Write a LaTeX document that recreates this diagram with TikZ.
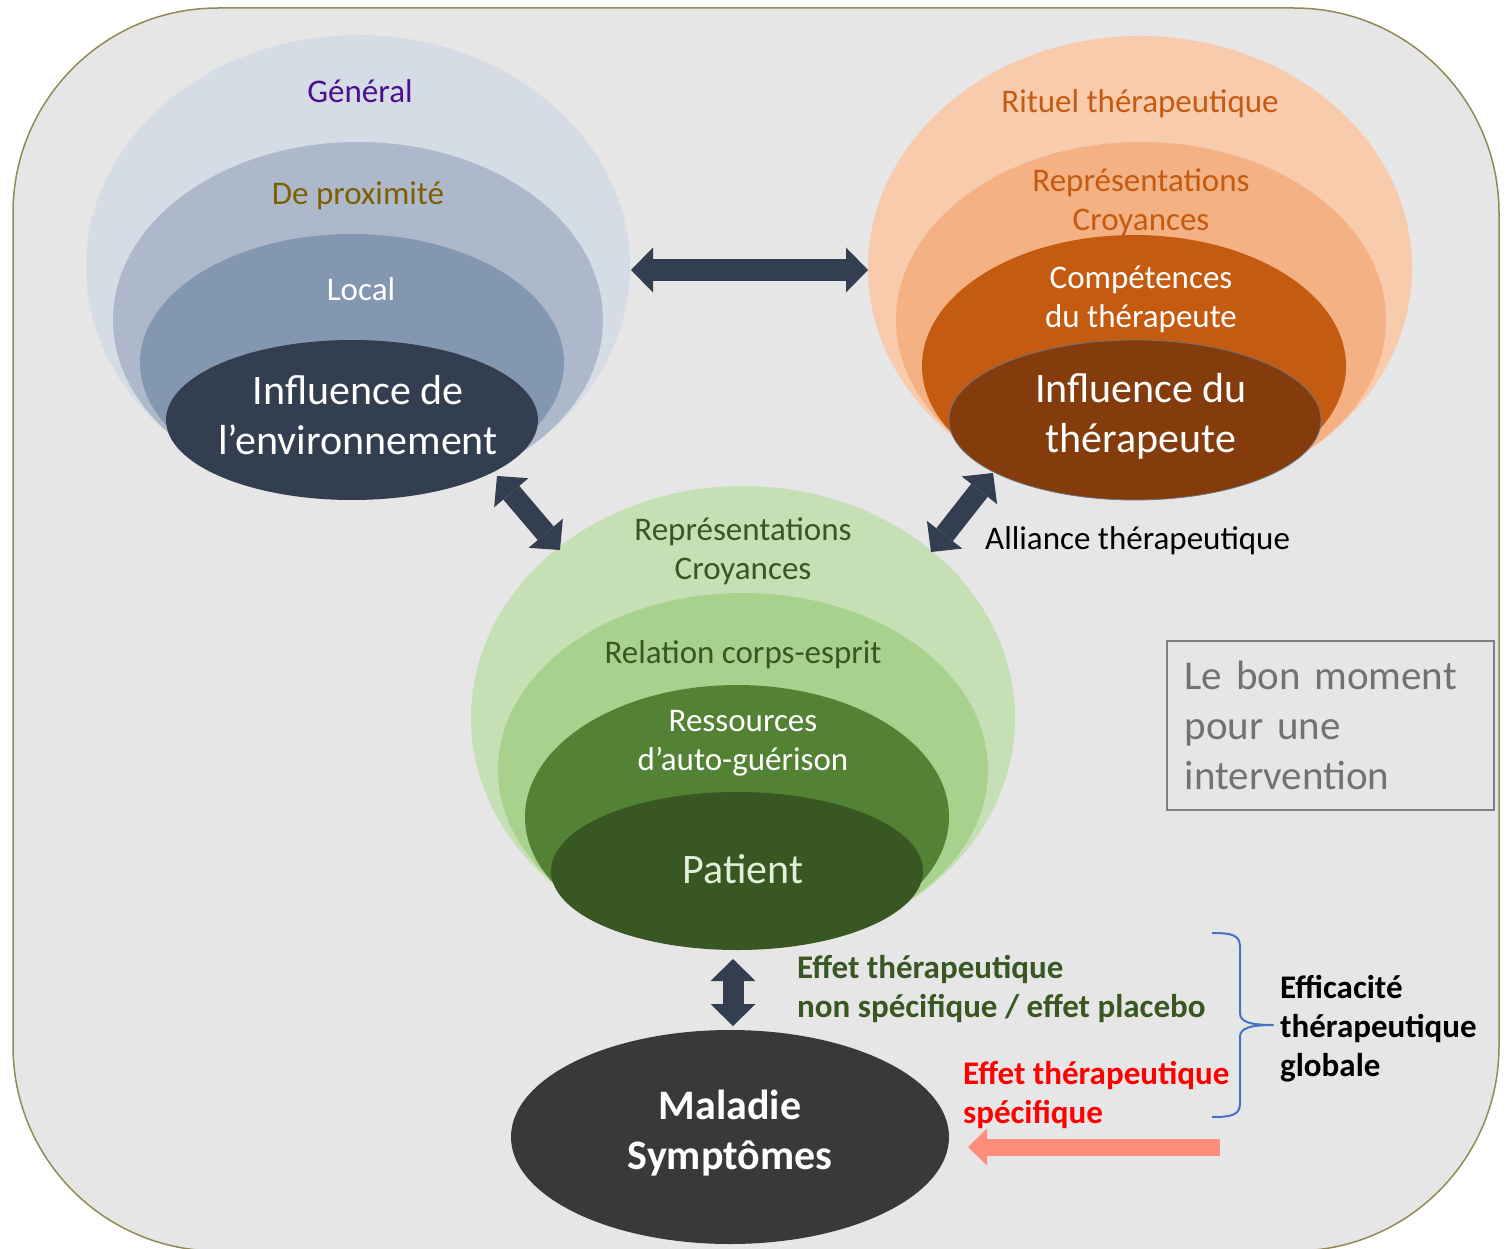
\documentclass[tikz,border=0pt]{standalone}
\usepackage{fontspec}
\setmainfont{Carlito}
\usetikzlibrary{shapes.geometric,arrows.meta}

% palette
\definecolor{bgfill}{HTML}{E7E6E6}
\definecolor{frameline}{HTML}{938953}
\definecolor{navyA}{HTML}{D6DCE5}
\definecolor{navyB}{HTML}{ADB9CA}
\definecolor{navyC}{HTML}{8497B0}
\definecolor{navyD}{HTML}{333F50}
\definecolor{orA}{HTML}{F8CBAD}
\definecolor{orB}{HTML}{F4B183}
\definecolor{orC}{HTML}{C55A11}
\definecolor{orD}{HTML}{843C0C}
\definecolor{grA}{HTML}{C5E0B4}
\definecolor{grB}{HTML}{A9D18E}
\definecolor{grC}{HTML}{548235}
\definecolor{grD}{HTML}{385723}
\definecolor{grLight}{HTML}{E2F0D9}
\definecolor{illness}{HTML}{3B3838}
\definecolor{purpleTxt}{HTML}{4D0F8F}
\definecolor{goldTxt}{HTML}{7F6000}
\definecolor{boxTxt}{HTML}{767171}
\definecolor{boxLine}{HTML}{7F7F7F}
\definecolor{braceBlue}{HTML}{4472C4}
\definecolor{salmon}{HTML}{FF8D7C}
\definecolor{rimGray}{HTML}{6F7680}

\tikzset{
  layer/.style 2 args={ellipse, inner sep=0pt, outer sep=0pt,
    minimum width=#1, minimum height=#2},
  lbl/.style={font=\fontsize{33}{39}\selectfont, align=center, inner sep=0pt},
  biglbl/.style={font=\fontsize{42}{50}\selectfont, align=center, inner sep=0pt, text=white},
  boldlbl/.style={font=\fontsize{33}{39}\selectfont\bfseries, align=left, inner sep=0pt, anchor=west},
  dblarrow/.style={draw=navyD, line width=21pt,
    {Triangle[width=45pt,length=22pt,line width=0pt]}-{Triangle[width=45pt,length=22pt,line width=0pt]}},
  onearrow/.style={draw=salmon, line width=17pt,
    -{Triangle[width=37pt,length=19pt,line width=0pt]}},
  bracket/.style={draw=braceBlue, line width=2pt, line join=round},
}

\begin{document}
\begin{tikzpicture}[x=1pt,y=-1pt]
\clip (0,0) rectangle (1506,1249);
\fill[white] (0,0) rectangle (1506,1249);

% rounded frame
\draw[fill=bgfill, draw=frameline, line width=1.5pt, rounded corners=205pt]
  (13,8) rectangle (1499,1251);

% environment layers
\node[layer={544pt}{464pt}, fill=navyA] (envA) at (358,267) {};
\node[layer={490pt}{356pt}, fill=navyB] (envB) at (358,320) {};
\node[layer={424pt}{258pt}, fill=navyC] (envC) at (352,363) {};
\node[layer={372pt}{160pt}, fill=navyD] (envD) at (352,420) {};

\node[lbl, text=purpleTxt] (tGen) at (360,91) {Général};
\node[lbl, text=goldTxt] (tProx) at (358,196) {De proximité};
\node[lbl, text=white] (tLocal) at (361,289) {Local};
\node[biglbl] (tEnv) at (358,415) {Influence de\\l’environnement};

% therapist layers
\node[layer={544pt}{464pt}, fill=orA] (therA) at (1140,268) {};
\node[layer={490pt}{356pt}, fill=orB] (therB) at (1141,320) {};
\node[layer={424pt}{262pt}, fill=orC] (therC) at (1134,366) {};
\node[layer={372pt}{160pt}, fill=orD, draw=rimGray, line width=0.8pt] (therD) at (1135,420) {};

\node[lbl, text=orC] (tRit) at (1140,104) {Rituel thérapeutique};
\node[lbl, text=orC] (tRepT) at (1141,202) {Représentations\\Croyances};
\node[lbl, text=white] (tComp) at (1141,299) {Compétences\\du thérapeute};
\node[biglbl] (tTher) at (1141,416) {Influence du\\thérapeute};

% patient layers
\node[layer={544pt}{464pt}, fill=grA] (patA) at (743,718) {};
\node[layer={490pt}{354pt}, fill=grB] (patB) at (743,770) {};
\node[layer={424pt}{264pt}, fill=grC] (patC) at (737,817) {};
\node[layer={372pt}{158pt}, fill=grD] (patD) at (737,871) {};

\node[lbl, text=grD] (tRepP) at (743,551) {Représentations\\Croyances};
\node[lbl, text=grD] (tRel) at (743,655) {Relation corps-esprit};
\node[lbl, text=white] (tRes) at (743,743) {Ressources\\d’auto-guérison};
\node[biglbl, text=grLight] (tPat) at (743,869) {Patient};

% illness
\node[layer={438pt}{214pt}, fill=illness] (ill) at (730,1137) {};
\node[biglbl, font=\fontsize{42}{50}\selectfont\bfseries] (tIll) at (730,1133) {Maladie\\Symptômes};

% arrow end points
\coordinate (hL) at (631,270);
\coordinate (hR) at (868,270);
\coordinate (dLa) at (497,476);
\coordinate (dLb) at (560,550);
\coordinate (dRa) at (993,473);
\coordinate (dRb) at (931,552);
\coordinate (vT) at (733,959);
\coordinate (vB) at (733,1026);
\coordinate (sStart) at (1220,1147);
\coordinate (sEnd) at (968,1147);

\draw[dblarrow] (hL) -- (hR);
\draw[dblarrow] (dLa) -- (dLb);
\draw[dblarrow] (dRa) -- (dRb);
\draw[dblarrow] (vT) -- (vB);
\draw[onearrow] (sStart) -- (sEnd);

\node[lbl, anchor=west] (tAll) at (985,541) {Alliance thérapeutique};

% effects
\node[boldlbl, text=grD] (tNonSpec) at (797,989) {Effet thérapeutique\\non spécifique / effet placebo};
\node[boldlbl, text=red] (tSpec) at (963,1095) {Effet thérapeutique\\spécifique};

% brace
\coordinate (bTop) at (1212,933);
\coordinate (bTip) at (1273,1025);
\coordinate (bBot) at (1212,1117);
\draw[bracket] (bTop) .. controls (1232,933) and (1240,935) .. (1240,947)
  -- (1240,1013) .. controls (1240,1022) and (1250,1025) .. (bTip)
  .. controls (1250,1025) and (1240,1028) .. (1240,1037)
  -- (1240,1103) .. controls (1240,1115) and (1232,1117) .. (bBot);
\node[boldlbl, text=black] (tGlob) at (1280,1029) {Efficacité\\thérapeutique\\globale};

% timing box
\node[draw=boxLine, line width=1.5pt, anchor=north west, minimum width=327pt,
  minimum height=169pt, text width=291pt, inner xsep=18pt, inner ysep=0pt,
  align=left, text=boxTxt, font=\fontsize{41}{50}\selectfont] (moment) at (1166,640)
  {Le bon moment\\pour une\\intervention};
\end{tikzpicture}
\end{document}
